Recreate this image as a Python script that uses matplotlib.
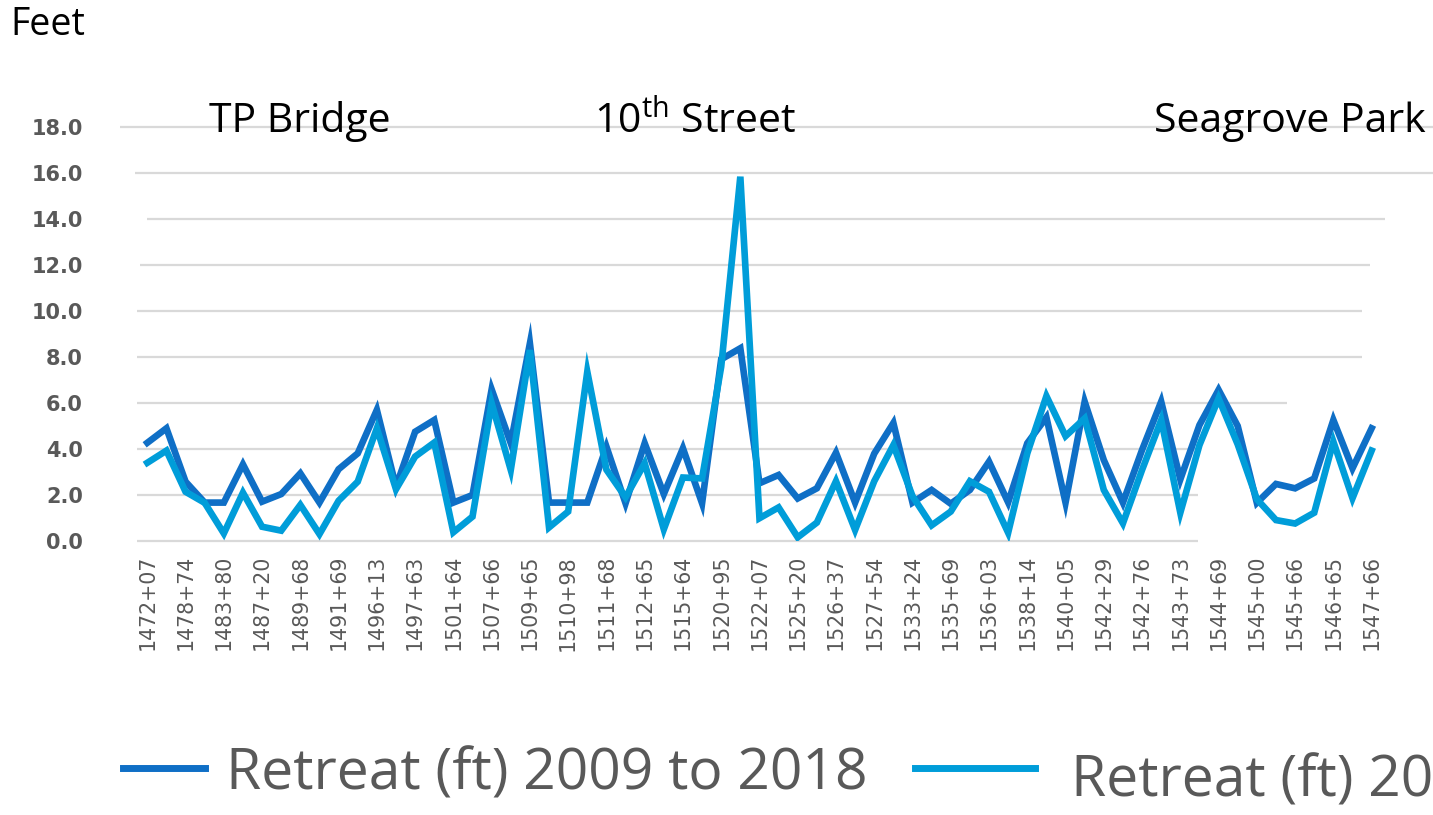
import matplotlib
matplotlib.use("Agg")
import matplotlib.pyplot as plt
from matplotlib.lines import Line2D

# ---- data ----
stations = ["1472+07", "1478+74", "1483+80", "1487+20", "1489+68", "1491+69",
            "1496+13", "1497+63", "1501+64", "1507+66", "1509+65", "1510+98",
            "1511+68", "1512+65", "1515+64", "1520+95", "1522+07", "1525+20",
            "1526+37", "1527+54", "1533+24", "1535+69", "1536+03", "1538+14",
            "1540+05", "1542+29", "1542+76", "1543+73", "1544+69", "1545+00",
            "1545+66", "1546+65", "1547+66"]

retreat_2009_2018 = [4.27, 4.90, 2.58, 1.67, 1.67, 3.33, 1.71, 2.04, 2.94, 1.67,
                     3.12, 3.81, 5.70, 2.36, 4.75, 5.26, 1.67, 2.00, 6.59, 4.25,
                     8.59, 1.67, 1.67, 1.67, 4.10, 1.64, 4.25, 2.04, 4.03, 1.64,
                     7.90, 8.38, 2.51, 2.87, 1.85, 2.29, 3.84, 1.67, 3.80, 5.13,
                     1.67, 2.22, 1.62, 2.22, 3.45, 1.68, 4.25, 5.38, 1.67, 6.06,
                     3.52, 1.67, 3.96, 6.06, 2.68, 5.04, 6.57, 5.00, 1.66, 2.48,
                     2.29, 2.72, 5.26, 3.16, 4.90]

retreat_series2 = [3.40, 3.93, 2.14, 1.66, 0.33, 2.10, 0.62, 0.45, 1.57, 0.30,
                   1.75, 2.58, 4.90, 2.25, 3.67, 4.28, 0.38, 1.06, 5.99, 3.09,
                   8.30, 0.59, 1.28, 7.36, 3.10, 1.90, 3.38, 0.51, 2.76, 2.72,
                   7.58, 15.84, 0.99, 1.46, 0.16, 0.80, 2.60, 0.48, 2.60, 4.17,
                   1.95, 0.68, 1.28, 2.60, 2.14, 0.36, 3.81, 6.30, 4.56, 5.33,
                   2.22, 0.77, 3.09, 5.26, 1.23, 4.17, 6.20, 4.20, 1.82, 0.91,
                   0.76, 1.23, 4.32, 1.86, 3.93]

yticks = [0, 2, 4, 6, 8, 10, 12, 14, 16, 18]
series_labels = ["Retreat (ft) 2009 to 2018", "Retreat (ft) 20"]

# ---- style ----
dark = "#0F6FC6"
light = "#009DD9"
grid_color = "#D9D9D9"
text_gray = "#595959"
# gridline horizontal extents (in x data units) per gridline, styling only
grid_extent = {0: (-0.55, 54.9), 2: (-0.55, 54.9), 4: (-0.55, 54.9),
               6: (-0.55, 59.6), 8: (-0.55, 63.5), 10: (-0.55, 63.5),
               12: (-0.4, 63.9), 14: (0.0, 64.7), 16: (-0.65, 67.3),
               18: (-1.43, 67.3)}

W, H = 1433, 815
fig = plt.figure(figsize=(W / 100, H / 100), dpi=100)
plt.rcParams['font.family'] = ['Open Sans', 'DejaVu Sans']

x0_px, x_step = 147.3, 19.13
xmin, xmax = -0.6, 64.6
left_px = x0_px + xmin * x_step
right_px = x0_px + xmax * x_step
bottom_px, top_px = 541, 87
ax = fig.add_axes([left_px / W, (H - bottom_px) / H,
                   (right_px - left_px) / W, (bottom_px - top_px) / H])
ymax = (bottom_px - top_px) / 23.0
ax.set_xlim(xmin, xmax)
ax.set_ylim(0, ymax)

for yv in yticks:
    a, b = grid_extent[yv]
    ax.hlines(yv, a, b, color=grid_color, lw=1.6, zorder=1, clip_on=False)

xs = list(range(len(retreat_2009_2018)))
ax.plot(xs, retreat_2009_2018, color=dark, lw=4.8, solid_joinstyle='miter', zorder=3)
ax.plot(xs, retreat_series2, color=light, lw=4.8, solid_joinstyle='miter', zorder=4)

for s in ax.spines.values():
    s.set_visible(False)

ax.set_yticks(yticks)
ax.set_yticklabels([f"{v:.1f}" for v in yticks], fontsize=15, fontweight='bold',
                   color=text_gray, family=['DejaVu Sans'])
ax.tick_params(axis='y', length=0, pad=38)

ax.set_xticks(list(range(0, 2 * len(stations), 2)))
ax.set_xticklabels(stations, rotation=90, fontsize=14.8, color=text_gray,
                   family=['DejaVu Sans'], va='top', ha='center')
ax.tick_params(axis='x', length=0, pad=10)

# annotations
fig.text(10 / W, 1 - 25 / H, "Feet", fontsize=27, color='black', va='center', ha='left')
fig.text(209 / W, 1 - 122 / H, "TP Bridge", fontsize=29.5, color='black', va='center', ha='left')
fig.text(594 / W, 1 - 122 / H, r"10$^{\mathregular{th}}$ Street", fontsize=29.5,
         color='black', va='center', ha='left')
fig.text(1154 / W, 1 - 122 / H, "Seagrove Park", fontsize=29.5, color='black',
         va='center', ha='left')

# legend (manual)
ly = 1 - 768 / H
fig.add_artist(Line2D([123 / W, 205 / W], [ly, ly], color=dark, lw=5))
fig.text(226 / W, 1 - 775 / H, series_labels[0], fontsize=41, color=text_gray,
         va='center', ha='left')
fig.add_artist(Line2D([915 / W, 1035 / W], [ly, ly], color=light, lw=5))
fig.text(1071 / W, 1 - 782 / H, series_labels[1], fontsize=41, color=text_gray,
         va='center', ha='left')

fig.savefig("out.png", dpi=100)
